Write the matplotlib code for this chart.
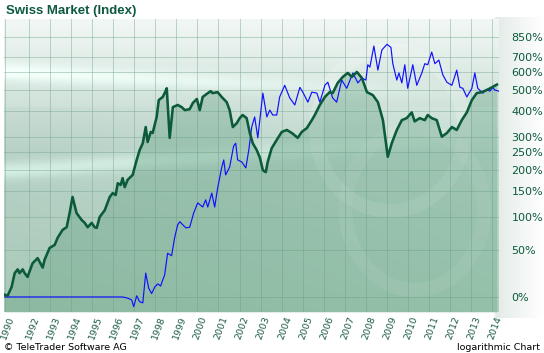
import numpy as np
import matplotlib
matplotlib.use("Agg")
import matplotlib.pyplot as plt
import matplotlib.transforms as mtrans
from matplotlib.patches import Ellipse

# ---------------- data (percent change, decimal years) ----------------
smi_years = [1990.83, 1990.97, 1991.16, 1991.31, 1991.45, 1991.54, 1991.69, 1991.78, 1991.92,
             1992.16, 1992.40, 1992.64, 1992.73, 1992.97, 1993.21, 1993.35, 1993.59, 1993.78,
             1993.92, 1994.06, 1994.25, 1994.49, 1994.64, 1994.78, 1994.97, 1995.11, 1995.21,
             1995.35, 1995.59, 1995.83, 1995.97, 1996.11, 1996.21, 1996.35, 1996.44, 1996.54,
             1996.68, 1996.92, 1997.11, 1997.25, 1997.40, 1997.54, 1997.63, 1997.78, 1997.87,
             1998.06, 1998.16, 1998.35, 1998.44, 1998.54, 1998.68, 1998.83, 1999.06, 1999.25,
             1999.40, 1999.63, 1999.78, 1999.97, 2000.11, 2000.25, 2000.44, 2000.63, 2000.72,
             2000.96, 2001.15, 2001.39, 2001.53, 2001.68, 2001.87, 2002.01, 2002.15, 2002.34,
             2002.49, 2002.63, 2002.82, 2002.97, 2003.11, 2003.25, 2003.34, 2003.53, 2003.77,
             2004.01, 2004.25, 2004.49, 2004.77, 2004.96, 2005.20, 2005.44, 2005.58, 2005.82,
             2006.06, 2006.29, 2006.43, 2006.67, 2006.91, 2007.15, 2007.34, 2007.58, 2007.82,
             2008.06, 2008.34, 2008.58, 2008.82, 2009.05, 2009.24, 2009.48, 2009.72, 2009.95,
             2010.19, 2010.33, 2010.57, 2010.81, 2010.95, 2011.14, 2011.38, 2011.62, 2011.86,
             2012.10, 2012.33, 2012.57, 2012.81, 2013.05, 2013.28, 2013.52, 2013.76, 2014.00,
             2014.24]
smi_pct = [2, 1, 9, 23, 27, 23, 27, 23, 19,
           34, 40, 29, 38, 53, 57, 67, 79, 83,
           107, 138, 107, 95, 90, 83, 90, 83, 82,
           100, 112, 138, 146, 142, 168, 164, 180, 159,
           176, 188, 228, 257, 279, 336, 283, 318, 314,
           376, 451, 466, 485, 510, 297, 418, 428, 418,
           405, 409, 437, 456, 405, 466, 481, 495, 485,
           490, 466, 441, 405, 336, 351, 371, 384, 371,
           314, 279, 257, 234, 200, 195, 222, 263, 290,
           318, 325, 314, 297, 318, 332, 363, 384, 428,
           466, 490, 485, 539, 573, 597, 573, 603, 567,
           490, 475, 441, 363, 237, 279, 325, 363, 371,
           395, 358, 371, 363, 384, 371, 363, 301, 314,
           336, 325, 363, 395, 451, 485, 490, 501, 515,
           530]

stock_years = [1990.83, 1996.21, 1996.44, 1996.68, 1996.87, 1996.97, 1997.11, 1997.25, 1997.40,
               1997.54, 1997.68, 1997.82, 1997.97, 1998.11, 1998.25, 1998.35, 1998.44, 1998.58,
               1998.77, 1998.92, 1999.06, 1999.16, 1999.30, 1999.45, 1999.63, 1999.82, 2000.01,
               2000.25, 2000.39, 2000.49, 2000.68, 2000.82, 2000.96, 2001.15, 2001.25, 2001.34,
               2001.53, 2001.72, 2001.82, 2001.91, 2002.11, 2002.30, 2002.44, 2002.58, 2002.72,
               2002.87, 2003.11, 2003.30, 2003.44, 2003.58, 2003.77, 2003.91, 2004.15, 2004.39,
               2004.63, 2004.87, 2005.01, 2005.25, 2005.44, 2005.68, 2005.82, 2006.06, 2006.20,
               2006.43, 2006.62, 2006.86, 2007.10, 2007.39, 2007.63, 2007.82, 2008.01, 2008.10,
               2008.20, 2008.39, 2008.58, 2008.77, 2009.01, 2009.20, 2009.29, 2009.48, 2009.58,
               2009.72, 2009.86, 2010.00, 2010.24, 2010.43, 2010.67, 2010.81, 2010.95, 2011.14,
               2011.29, 2011.48, 2011.67, 2011.86, 2012.10, 2012.33, 2012.48, 2012.62, 2012.81,
               2013.05, 2013.19, 2013.33, 2013.57, 2013.76, 2013.90, 2014.04, 2014.14, 2014.33]
stock_pct = [0, 0, 0, -1, -2.5, -8, 1, -4, -5,
             23, 8, 3, 9, 12, 10, 16, 21, 46,
             43, 68, 87, 92, 87, 82, 83, 107, 126,
             118, 132, 118, 146, 118, 157, 206, 228, 188,
             208, 270, 279, 228, 222, 206, 257, 336, 376,
             297, 485, 376, 405, 384, 384, 466, 526, 461,
             428, 515, 490, 441, 490, 485, 441, 526, 543,
             461, 441, 555, 510, 597, 539, 567, 555, 648,
             633, 780, 614, 750, 793, 770, 655, 555, 597,
             539, 648, 510, 648, 526, 597, 655, 648, 735,
             655, 679, 585, 543, 526, 614, 515, 510, 466,
             510, 597, 510, 485, 505, 495, 515, 501, 495]

ytick_pct = [0, 50, 100, 150, 200, 250, 300, 400, 500, 600, 700, 850]
xtick_years = [1990.83] + list(range(1992, 2015))
xtick_labels = ["1990"] + [str(y) for y in range(1992, 2015)]

title = "Swiss Market (Index)"
footer_left = "\u00a9 TeleTrader Software AG"
footer_right = "logarithmic Chart"

# ---------------- figure ----------------
W, H = 544, 353
fig = plt.figure(figsize=(W / 100, H / 100), dpi=100)
fig.patch.set_facecolor("white")

# light gradient behind the right-hand labels
bg = fig.add_axes([0, 0, 1, 1], zorder=-5)
bg.set_axis_off()
gx = np.linspace(0, 1, 200)
grad = np.ones((10, 200, 3))
shade = np.clip((gx - 0.9) / 0.1, 0, 1)
base = np.array([0.87, 0.91, 0.89])
for c in range(3):
    grad[:, :, c] = base[c] + (1 - base[c]) * shade
grad[:, :int(0.91 * 200), :] = 1.0
bg.imshow(grad, extent=[0, 1, 0.10, 0.95], aspect="auto", transform=bg.transAxes)
bg.set_xlim(0, 1)
bg.set_ylim(0, 1)

left, right = 4 / W, 499 / W
bottom, top = 1 - 312 / H, 1 - 19 / H
ax = fig.add_axes([left, bottom, right - left, top - bottom])

x0, x1 = 1990.80, 2014.34
y0, y1 = 0.878, 11.12
ax.set_yscale("log")
ax.set_xlim(x0, x1)
ax.set_ylim(y0, y1)

# plot-area background gradient
ny, nx = 300, 300
yy = np.linspace(0, 1, ny)[:, None]   # 0 = top
xx = np.linspace(0, 1, nx)[None, :]
topc = np.array([0.95, 0.97, 0.96])
midc = np.array([0.74, 0.84, 0.80])
botc = np.array([0.68, 0.81, 0.74])
t = np.clip(yy / 0.45, 0, 1)
img = np.zeros((ny, nx, 3))
for c in range(3):
    upper = topc[c] + (midc[c] - topc[c]) * t
    lower = midc[c] + (botc[c] - midc[c]) * np.clip((yy - 0.45) / 0.55, 0, 1)
    col = np.where(yy < 0.45, upper, lower)
    img[:, :, c] = col + 0.04 * (xx - 0.5) * (yy > 0.3)
# soft light streaks
streak = np.exp(-((yy - 0.18 - 0.08 * xx) / 0.03) ** 2) * (1 - xx) * 0.10
streak2 = np.exp(-((yy - 0.52 + 0.12 * xx) / 0.03) ** 2) * (1 - xx) * 0.12
for c in range(3):
    img[:, :, c] += streak[:, :] + streak2[:, :]
img = np.clip(img, 0, 1)
ax.imshow(img, extent=[0, 1, 0, 1], transform=ax.transAxes, aspect="auto", zorder=0)

# faint swoosh logo shapes
for (cx, cy, w, h, a) in [(0.78, 0.62, 0.30, 0.55, 0.18), (0.83, 0.35, 0.28, 0.55, 0.12)]:
    e = Ellipse((cx, cy), w, h, transform=ax.transAxes, facecolor="none",
                edgecolor="white", lw=10, alpha=a, zorder=1)
    ax.add_patch(e)

# grid
grid_col = "#7aa892"
for xv in xtick_years:
    ax.axvline(xv, color=grid_col, lw=0.6, alpha=0.55, zorder=1)
for p in ytick_pct:
    ax.axhline(1 + p / 100, color=grid_col, lw=0.6, alpha=0.55, zorder=1)

smi_ratio = 1 + np.array(smi_pct) / 100.0
stock_ratio = 1 + np.array(stock_pct) / 100.0

ax.fill_between(smi_years, smi_ratio, y0, color="#4f9470", alpha=0.30, lw=0, zorder=2)
ax.plot(stock_years, stock_ratio, color="#1010ff", lw=0.85, zorder=4)
ax.plot(smi_years, smi_ratio, color="#0b5a3a", lw=1.85, zorder=5, solid_joinstyle="round")

for s in ax.spines.values():
    s.set_visible(False)

ax.yaxis.tick_right()
ax.set_yticks([1 + p / 100 for p in ytick_pct])
ax.set_yticklabels([f"{p}%" for p in ytick_pct], fontsize=8, color="#0b5a3a",
                   fontfamily="DejaVu Sans")
ax.yaxis.set_minor_locator(matplotlib.ticker.NullLocator())
ax.tick_params(axis="y", length=0, pad=9)

ax.set_xticks(xtick_years)
ax.set_xticklabels(xtick_labels, rotation=70, fontsize=6.8, color="#1d5e44",
                   fontfamily="DejaVu Sans", ha="center", va="top")
ax.tick_params(axis="x", length=0, pad=2)
shift = mtrans.ScaledTranslation(3 / 100, 0, fig.dpi_scale_trans)
for lab in ax.get_xticklabels():
    lab.set_transform(lab.get_transform() + shift)

fig.text(6 / W, 1 - 11 / H, title, fontsize=9.5, fontweight="bold", color="#0d5a3e",
         fontfamily="Liberation Sans", va="center", ha="left")
fig.text(4 / W, 1 - 347 / H, footer_left, fontsize=6.8, color="black",
         fontfamily="DejaVu Sans", va="center", ha="left")
fig.text(540 / W, 1 - 347 / H, footer_right, fontsize=6.8, color="black",
         fontfamily="DejaVu Sans", va="center", ha="right")

fig.savefig("out.png", dpi=100)
